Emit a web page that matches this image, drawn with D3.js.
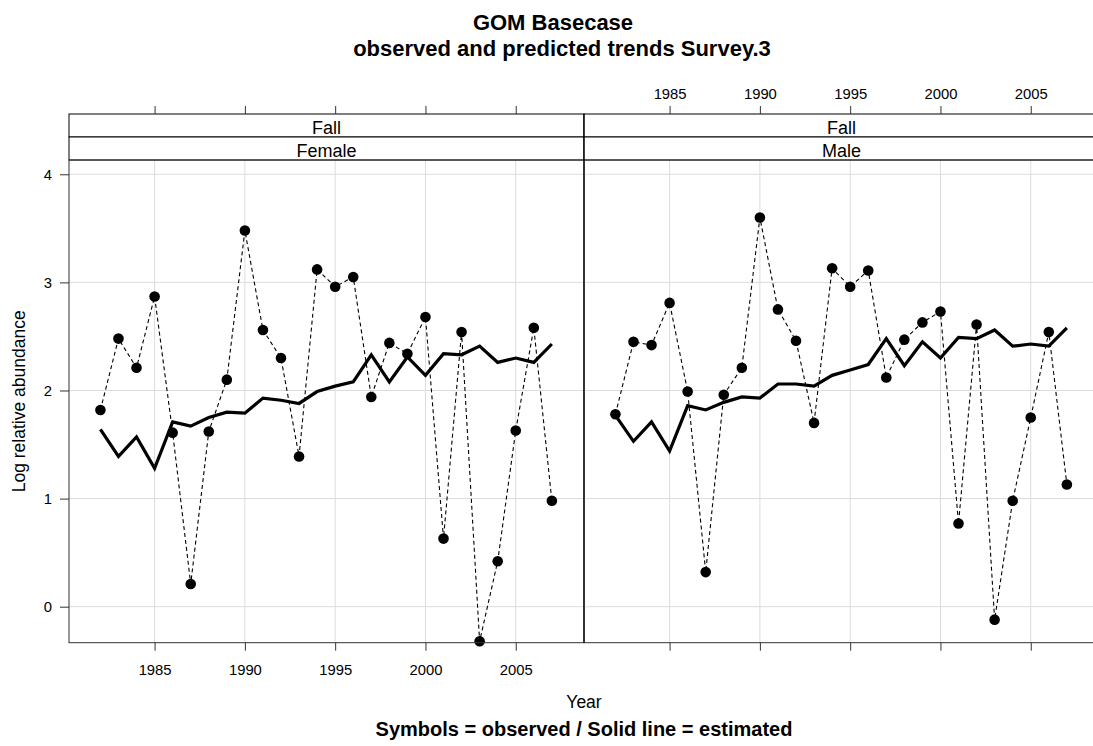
<!DOCTYPE html>
<html><head><meta charset="utf-8">
<script src="https://cdn.jsdelivr.net/npm/d3@7"></script>
<style>body{margin:0;background:#fff}svg{display:block;font-family:"Liberation Sans",Arial,sans-serif}</style>
</head><body><svg id="c" width="1093" height="746"></svg>
<script>
const years = d3.range(1982, 2008);
const femaleObs = [1.82,2.48,2.21,2.87,1.61,0.21,1.62,2.10,3.48,2.56,2.30,1.39,3.12,2.96,3.05,1.94,2.44,2.34,2.68,0.63,2.54,-0.32,0.42,1.63,2.58,0.98];
const femaleEst = [1.64,1.39,1.57,1.28,1.71,1.67,1.75,1.80,1.79,1.93,1.91,1.88,1.99,2.04,2.08,2.33,2.08,2.31,2.14,2.34,2.33,2.41,2.26,2.30,2.26,2.43];
const maleObs = [1.78,2.45,2.42,2.81,1.99,0.32,1.96,2.21,3.60,2.75,2.46,1.70,3.13,2.96,3.11,2.12,2.47,2.63,2.73,0.77,2.61,-0.12,0.98,1.75,2.54,1.13];
const maleEst = [1.77,1.53,1.71,1.44,1.86,1.82,1.89,1.94,1.93,2.06,2.06,2.04,2.14,2.19,2.24,2.48,2.23,2.45,2.30,2.49,2.48,2.56,2.41,2.43,2.41,2.58];
const xTicks = [1985,1990,1995,2000,2005];
const yTicks = [0,1,2,3,4];
const panels = [
  {season:"Fall", sex:"Female", obs:femaleObs, est:femaleEst, x0:69, x1:584, bottomLabels:true, topLabels:false},
  {season:"Fall", sex:"Male", obs:maleObs, est:maleEst, x0:584, x1:1099, bottomLabels:false, topLabels:true}
];
const svg = d3.select("#c");
const top0 = 114, stripH = 23, pTop = top0 + 2*stripH, pBot = 642.7;
const y = d3.scaleLinear().domain([-0.333, 4.132]).range([pBot, pTop]);
const frame = "#333";
const font = "Liberation Sans, Arial, sans-serif";

panels.forEach((p) => {
  const x = d3.scaleLinear().domain([1980.26, 2008.78]).range([p.x0, p.x1]);
  const g = svg.append("g");
  g.selectAll(".gx").data(xTicks).join("line")
    .attr("x1", d => x(d)).attr("x2", d => x(d)).attr("y1", pTop).attr("y2", pBot)
    .attr("stroke", "#dcdcdc").attr("stroke-width", 1);
  g.selectAll(".gy").data(yTicks).join("line")
    .attr("x1", p.x0).attr("x2", p.x1).attr("y1", d => y(d)).attr("y2", d => y(d))
    .attr("stroke", "#dcdcdc").attr("stroke-width", 1);
  const pts = years.map((yr, i) => [yr, p.obs[i]]);
  g.append("path").datum(pts)
    .attr("d", d3.line().x(d => x(d[0])).y(d => y(d[1])))
    .attr("fill", "none").attr("stroke", "#000").attr("stroke-width", 1.1)
    .attr("stroke-dasharray", "4,3");
  const est = years.map((yr, i) => [yr, p.est[i]]);
  g.append("path").datum(est)
    .attr("d", d3.line().x(d => x(d[0])).y(d => y(d[1])))
    .attr("fill", "none").attr("stroke", "#000").attr("stroke-width", 3.2)
    .attr("stroke-linejoin", "miter");
  g.selectAll("circle").data(pts).join("circle")
    .attr("cx", d => x(d[0])).attr("cy", d => y(d[1])).attr("r", 5.3).attr("fill", "#000");
  [p.season, p.sex].forEach((t, k) => {
    const sy = top0 + k*stripH;
    g.append("rect").attr("x", p.x0).attr("y", sy).attr("width", p.x1 - p.x0).attr("height", stripH)
      .attr("fill", "#fff").attr("stroke", "#000").attr("stroke-width", 1);
    g.append("text").attr("x", (p.x0 + p.x1)/2).attr("y", sy + 20).attr("text-anchor", "middle")
      .attr("font-size", 18).text(t);
  });
  g.append("rect").attr("x", p.x0).attr("y", pTop).attr("width", p.x1 - p.x0).attr("height", pBot - pTop)
    .attr("fill", "none").attr("stroke", frame).attr("stroke-width", 1);
  const bAx = d3.axisBottom(x).tickValues(xTicks).tickSize(8).tickPadding(14).tickFormat(p.bottomLabels ? d3.format("d") : () => "");
  const ba = g.append("g").attr("transform", `translate(0,${pBot})`).call(bAx);
  ba.select(".domain").remove();
  const tAx = d3.axisTop(x).tickValues(xTicks).tickSize(8).tickPadding(7.5).tickFormat(p.topLabels ? d3.format("d") : () => "");
  const ta = g.append("g").attr("transform", `translate(0,${top0})`).call(tAx);
  ta.select(".domain").remove();
  [ba, ta].forEach(a => {
    a.selectAll("line").attr("stroke", frame);
    a.selectAll("text").attr("font-size", 14.8).attr("fill", "#000").attr("font-family", font);
  });
});
svg.append("line").attr("x1", 584).attr("x2", 584).attr("y1", top0).attr("y2", pBot).attr("stroke", "#000");
const yAx = d3.axisLeft(y).tickValues(yTicks).tickSize(9).tickPadding(8).tickFormat(d3.format("d"));
const ya = svg.append("g").attr("transform", "translate(69,0)").call(yAx);
ya.select(".domain").remove();
ya.selectAll("line").attr("stroke", frame);
ya.selectAll("text").attr("font-size", 14.8).attr("fill", "#000").attr("font-family", font);

svg.append("text").attr("x", 553).attr("y", 30).attr("text-anchor", "middle")
  .attr("font-size", 22).attr("font-weight", "bold").text("GOM Basecase");
svg.append("text").attr("x", 562).attr("y", 56).attr("text-anchor", "middle")
  .attr("font-size", 22).attr("font-weight", "bold").text("observed and predicted trends Survey.3");
svg.append("text").attr("x", 584).attr("y", 708).attr("text-anchor", "middle")
  .attr("font-size", 17.5).text("Year");
svg.append("text").attr("x", 584).attr("y", 736).attr("text-anchor", "middle")
  .attr("font-size", 20).attr("font-weight", "bold").text("Symbols = observed / Solid line = estimated");
svg.append("text").attr("transform", `translate(25,${(pTop+pBot)/2}) rotate(-90)`).attr("text-anchor", "middle")
  .attr("font-size", 17.5).text("Log relative abundance");
</script></body></html>
